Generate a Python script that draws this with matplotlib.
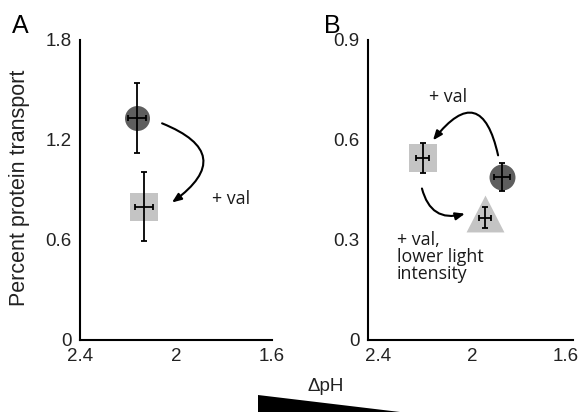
import numpy as np
import matplotlib.pyplot as plt
from matplotlib.patches import Polygon

plt.rcParams['font.family'] = ['Liberation Sans', 'DejaVu Sans']

# panel A: control (circle) and + valinomycin (square)
a_x = [2.164, 2.132]
a_y = [1.33, 0.80]
a_xerr = [0.037, 0.0375]
a_yerr = [0.21, 0.205]

# panel B: control (circle), + val (square), + val lower light (triangle)
b_x = [1.874, 2.21, 1.945]
b_y = [0.488, 0.547, 0.367]
b_xerr = [0.034, 0.027, 0.024]
b_yerr = [0.042, 0.045, 0.032]

a_yticks = [0, 0.6, 1.2, 1.8]
b_yticks = [0, 0.3, 0.6, 0.9]
xticks = [2.4, 2, 1.6]

fig = plt.figure(figsize=(5.86, 4.15), dpi=100)
axA = fig.add_axes([80/586, 1-340/415, 192/586, 300/415])
axB = fig.add_axes([368/586, 1-340/415, 205/586, 300/415])

dark = '#5e5e5e'
light = '#c4c4c4'
tri = [(0, 23), (-19, -14), (19, -14)]

def style(ax, yt, ylim, xlim):
    ax.set_xlim(*xlim)
    ax.set_ylim(*ylim)
    ax.set_yticks(yt)
    ax.set_yticklabels([('%g' % v) for v in yt])
    ax.set_xticks(xticks)
    ax.set_xticklabels(['2.4', '2', '1.6'])
    for s in ['top', 'right']:
        ax.spines[s].set_visible(False)
    for s in ['left', 'bottom']:
        ax.spines[s].set_linewidth(1.5)
    ax.tick_params(length=0, pad=6, labelsize=13.5, colors='#222222')

style(axA, a_yticks, (0, 1.8), (2.4, 1.6))
style(axB, b_yticks, (0, 0.9), (2.4426, 1.5702))

# markers
axA.plot(a_x[0], a_y[0], 'o', ms=18, color=dark, mew=0, zorder=2)
axA.plot(a_x[1], a_y[1], 's', ms=20.5, color=light, mew=0, zorder=2)
axB.plot(b_x[0], b_y[0], 'o', ms=18.7, color=dark, mew=0, zorder=2)
axB.plot(b_x[1], b_y[1], 's', ms=20.5, color=light, mew=0, zorder=2)
axB.plot(b_x[2], b_y[2], marker=tri, ms=33, color=light, mew=0, ls='none', zorder=2)

axA.errorbar(a_x, a_y, xerr=a_xerr, yerr=a_yerr, fmt='none', ecolor='black',
             elinewidth=1.3, capsize=2.5, capthick=1.3, zorder=3)
axB.errorbar(b_x, b_y, xerr=b_xerr, yerr=b_yerr, fmt='none', ecolor='black',
             elinewidth=1.3, capsize=2.5, capthick=1.3, zorder=3)

arr = dict(arrowstyle='-|>,head_length=0.55,head_width=0.22', color='black', lw=1.5,
           shrinkA=0, shrinkB=0)
axA.annotate('', xy=(2.017, 0.825), xytext=(2.058, 1.30),
             arrowprops=dict(arr, connectionstyle='arc3,rad=-0.9'))
axB.annotate('', xy=(2.166, 0.599), xytext=(1.889, 0.554),
             arrowprops=dict(arr, connectionstyle='arc3,rad=1.05'))
axB.annotate('', xy=(2.030, 0.379), xytext=(2.213, 0.4545),
             arrowprops=dict(arr, connectionstyle='arc3,rad=0.5'))

note = dict(family=['Open Sans', 'DejaVu Sans'], fontsize=12.8, color='#1a1a1a')
fig.text(212/586, 1-199/415, '+ val', va='center', ha='left', **note)
fig.text(429/586, 1-97/415, '+ val', va='center', ha='left', **note)
fig.text(397/586, 1-231/415, '+ val,\nlower light\nintensity', va='top', ha='left',
         linespacing=0.92, **note)

fig.text(20/586, 1-188/415, 'Percent protein transport', fontsize=15.5, color='#222222',
         rotation=90, ha='center', va='center')

fig.text(12/586, 1-33/415, 'A', fontsize=18, va='baseline', ha='left')
fig.text(324/586, 1-33/415, 'B', fontsize=18, va='baseline', ha='left')

fig.text(326/586, 1-386/415, '\u0394pH', fontsize=13.5, ha='center', va='center', color='#222222')
wedge = Polygon([(258/586, 1-395/415), (258/586, 1-412/415), (400/586, 1-412/415)],
                closed=True, transform=fig.transFigure, color='black', lw=0)
fig.patches.append(wedge)

fig.savefig('out.png', dpi=100)
